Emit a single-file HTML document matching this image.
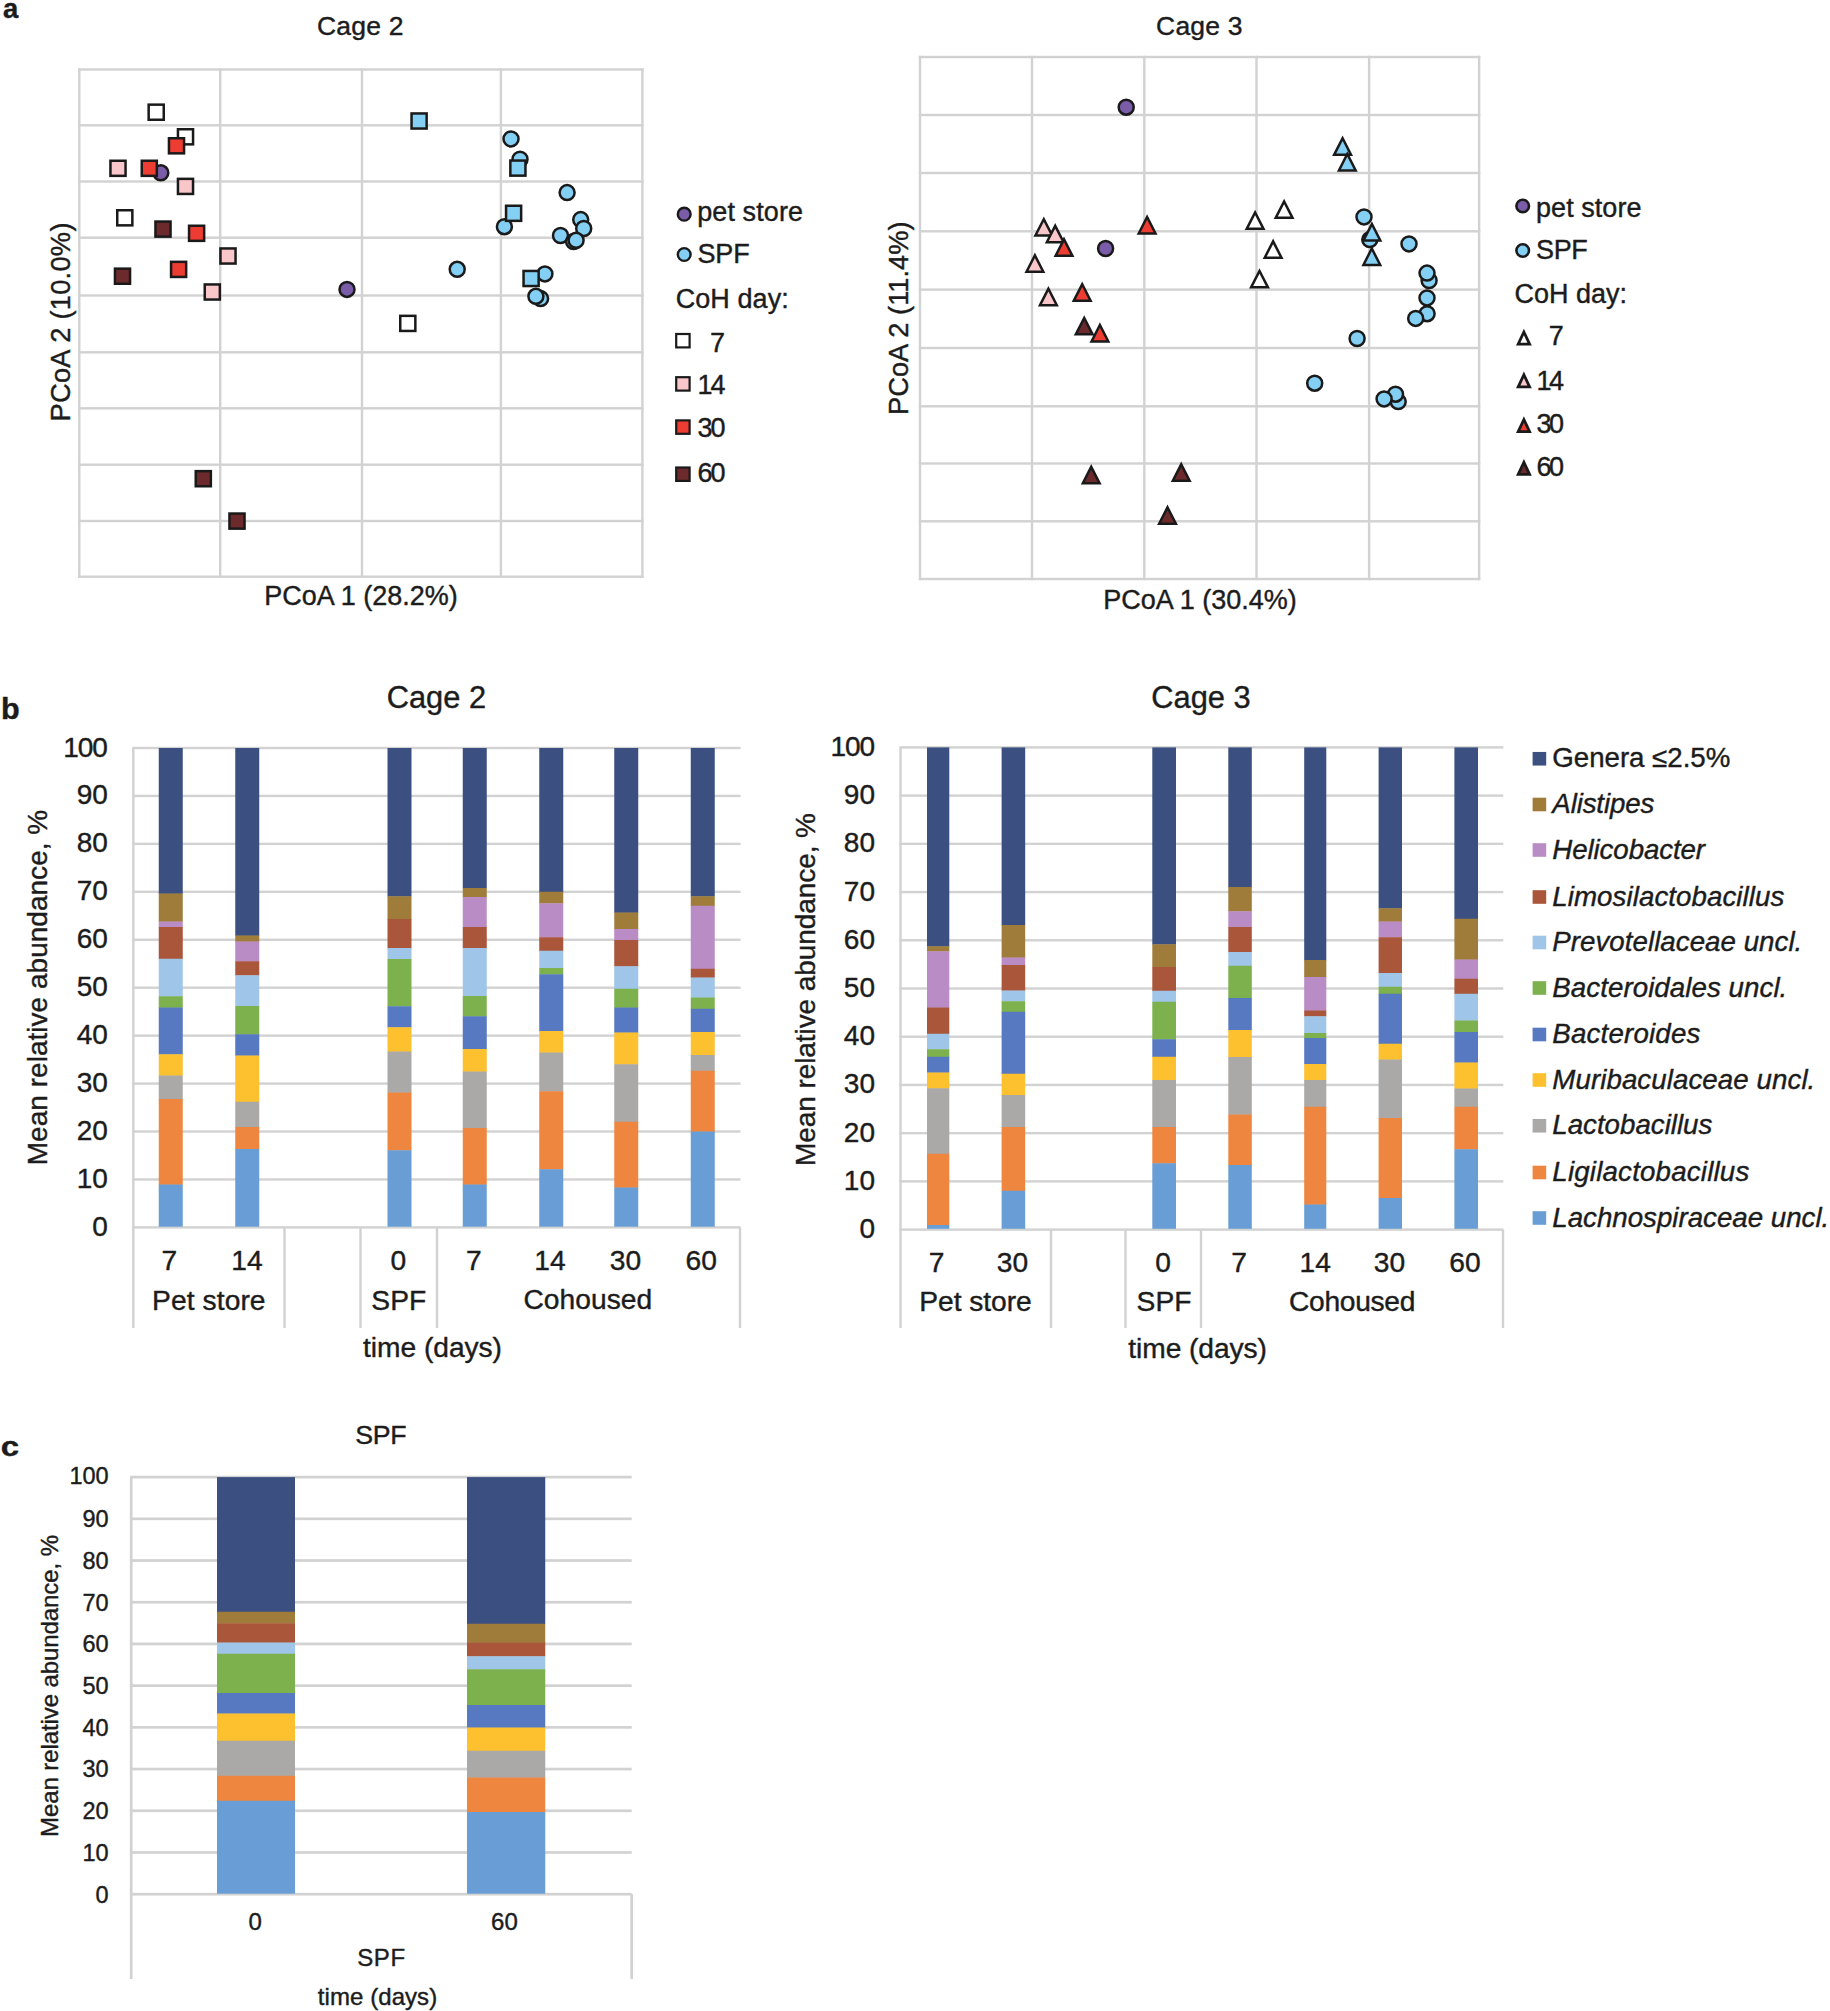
<!DOCTYPE html>
<html lang="en"><head><meta charset="utf-8"><title>Figure</title>
<style>
html,body{margin:0;padding:0;background:#fff}
svg{display:block}
svg text{font-family:"Liberation Sans",Arial,Helvetica,sans-serif;fill:#1c1c1c;stroke:#1c1c1c;stroke-width:.4px;stroke-linejoin:round}
</style></head>
<body>
<svg width="1830" height="2011" viewBox="0 0 1830 2011">
<rect width="1830" height="2011" fill="#ffffff"/>
<text transform="translate(3 18) scale(1.0 1)" font-size="27.5" font-weight="bold">a</text>
<text x="360.2" y="34.5" font-size="26.5" text-anchor="middle" textLength="86.5" lengthAdjust="spacing">Cage 2</text>
<rect x="78.1" y="68.3" width="565.5" height="2.4" fill="#d2d2d2"/>
<rect x="78.1" y="124.1" width="565.5" height="2.4" fill="#d2d2d2"/>
<rect x="78.1" y="180.3" width="565.5" height="2.4" fill="#d2d2d2"/>
<rect x="78.1" y="236.5" width="565.5" height="2.4" fill="#d2d2d2"/>
<rect x="78.1" y="294.3" width="565.5" height="2.4" fill="#d2d2d2"/>
<rect x="78.1" y="351.1" width="565.5" height="2.4" fill="#d2d2d2"/>
<rect x="78.1" y="407.1" width="565.5" height="2.4" fill="#d2d2d2"/>
<rect x="78.1" y="463.5" width="565.5" height="2.4" fill="#d2d2d2"/>
<rect x="78.1" y="519.8" width="565.5" height="2.4" fill="#d2d2d2"/>
<rect x="78.1" y="575.5" width="565.5" height="2.4" fill="#d2d2d2"/>
<rect x="78.1" y="68.3" width="2.4" height="509.6000000000001" fill="#d2d2d2"/>
<rect x="219.0" y="68.3" width="2.4" height="509.6000000000001" fill="#d2d2d2"/>
<rect x="360.8" y="68.3" width="2.4" height="509.6000000000001" fill="#d2d2d2"/>
<rect x="499.7" y="68.3" width="2.4" height="509.6000000000001" fill="#d2d2d2"/>
<rect x="641.1999999999999" y="68.3" width="2.4" height="509.6000000000001" fill="#d2d2d2"/>
<text x="361" y="605" font-size="27" text-anchor="middle" textLength="193.5" lengthAdjust="spacing">PCoA 1 (28.2%)</text>
<text x="69.6" y="322" font-size="27.3" text-anchor="middle" textLength="199" lengthAdjust="spacing" transform="rotate(-90 69.6 322)">PCoA 2 (10.0%)</text>
<circle cx="511" cy="138.9" r="7.5" fill="#84cff4" stroke="#1a1a1a" stroke-width="2.5"/>
<circle cx="520" cy="159.2" r="7.5" fill="#84cff4" stroke="#1a1a1a" stroke-width="2.5"/>
<circle cx="567.1" cy="192.6" r="7.5" fill="#84cff4" stroke="#1a1a1a" stroke-width="2.5"/>
<circle cx="504.4" cy="226.7" r="7.5" fill="#84cff4" stroke="#1a1a1a" stroke-width="2.5"/>
<circle cx="580.7" cy="219.6" r="7.5" fill="#84cff4" stroke="#1a1a1a" stroke-width="2.5"/>
<circle cx="583.7" cy="228.5" r="7.5" fill="#84cff4" stroke="#1a1a1a" stroke-width="2.5"/>
<circle cx="560.5" cy="235.5" r="7.5" fill="#84cff4" stroke="#1a1a1a" stroke-width="2.5"/>
<circle cx="573.6" cy="241.6" r="7.5" fill="#84cff4" stroke="#1a1a1a" stroke-width="2.5"/>
<circle cx="576.1" cy="240.3" r="7.5" fill="#84cff4" stroke="#1a1a1a" stroke-width="2.5"/>
<circle cx="457.2" cy="269.3" r="7.5" fill="#84cff4" stroke="#1a1a1a" stroke-width="2.5"/>
<circle cx="544.9" cy="273.9" r="7.5" fill="#84cff4" stroke="#1a1a1a" stroke-width="2.5"/>
<circle cx="540.6" cy="298.6" r="7.5" fill="#84cff4" stroke="#1a1a1a" stroke-width="2.5"/>
<circle cx="535.9" cy="296.3" r="7.5" fill="#84cff4" stroke="#1a1a1a" stroke-width="2.5"/>
<circle cx="160.8" cy="172.8" r="7.5" fill="#7b5ca8" stroke="#1a1a1a" stroke-width="2.5"/>
<circle cx="347" cy="289.4" r="7.5" fill="#7b5ca8" stroke="#1a1a1a" stroke-width="2.5"/>
<rect x="411.55" y="113.45" width="15.1" height="15.1" fill="#84cff4" stroke="#1a1a1a" stroke-width="2.5"/>
<rect x="510.35" y="160.55" width="15.1" height="15.1" fill="#84cff4" stroke="#1a1a1a" stroke-width="2.5"/>
<rect x="506.05" y="205.75" width="15.1" height="15.1" fill="#84cff4" stroke="#1a1a1a" stroke-width="2.5"/>
<rect x="523.55" y="270.95" width="15.1" height="15.1" fill="#84cff4" stroke="#1a1a1a" stroke-width="2.5"/>
<rect x="148.65" y="104.65" width="15.1" height="15.1" fill="#ffffff" stroke="#1a1a1a" stroke-width="2.5"/>
<rect x="177.95" y="129.25" width="15.1" height="15.1" fill="#ffffff" stroke="#1a1a1a" stroke-width="2.5"/>
<rect x="117.25" y="210.25" width="15.1" height="15.1" fill="#ffffff" stroke="#1a1a1a" stroke-width="2.5"/>
<rect x="400.25" y="315.85" width="15.1" height="15.1" fill="#ffffff" stroke="#1a1a1a" stroke-width="2.5"/>
<rect x="110.45" y="160.75" width="15.1" height="15.1" fill="#f9c6c9" stroke="#1a1a1a" stroke-width="2.5"/>
<rect x="177.95" y="178.85" width="15.1" height="15.1" fill="#f9c6c9" stroke="#1a1a1a" stroke-width="2.5"/>
<rect x="220.45" y="248.45" width="15.1" height="15.1" fill="#f9c6c9" stroke="#1a1a1a" stroke-width="2.5"/>
<rect x="204.75" y="284.45" width="15.1" height="15.1" fill="#f9c6c9" stroke="#1a1a1a" stroke-width="2.5"/>
<rect x="168.95" y="138.25" width="15.1" height="15.1" fill="#ed3d32" stroke="#1a1a1a" stroke-width="2.5"/>
<rect x="141.75" y="160.75" width="15.1" height="15.1" fill="#ed3d32" stroke="#1a1a1a" stroke-width="2.5"/>
<rect x="189.05" y="225.75" width="15.1" height="15.1" fill="#ed3d32" stroke="#1a1a1a" stroke-width="2.5"/>
<rect x="171.05" y="261.85" width="15.1" height="15.1" fill="#ed3d32" stroke="#1a1a1a" stroke-width="2.5"/>
<rect x="155.45" y="221.55" width="15.1" height="15.1" fill="#6d2a2c" stroke="#1a1a1a" stroke-width="2.5"/>
<rect x="114.95" y="268.65" width="15.1" height="15.1" fill="#6d2a2c" stroke="#1a1a1a" stroke-width="2.5"/>
<rect x="195.75" y="471.15" width="15.1" height="15.1" fill="#6d2a2c" stroke="#1a1a1a" stroke-width="2.5"/>
<rect x="229.45" y="513.55" width="15.1" height="15.1" fill="#6d2a2c" stroke="#1a1a1a" stroke-width="2.5"/>
<circle cx="684.2" cy="214.2" r="6.4" fill="#7b5ca8" stroke="#1a1a1a" stroke-width="2.4"/>
<text x="697.2" y="220.8" font-size="27" textLength="105.8" lengthAdjust="spacing">pet store</text>
<circle cx="684.2" cy="254.5" r="6.4" fill="#84cff4" stroke="#1a1a1a" stroke-width="2.4"/>
<text x="697.5" y="263.1" font-size="27" textLength="52.2" lengthAdjust="spacing">SPF</text>
<text x="675.7" y="308.1" font-size="27" textLength="113" lengthAdjust="spacing">CoH day:</text>
<rect x="676.20" y="334.00" width="13.4" height="13.4" fill="#ffffff" stroke="#1a1a1a" stroke-width="2.2"/>
<text x="710" y="351.6" font-size="27">7</text>
<rect x="676.20" y="377.20" width="13.4" height="13.4" fill="#f9c6c9" stroke="#1a1a1a" stroke-width="2.2"/>
<text x="697.6" y="394" font-size="27" textLength="28" lengthAdjust="spacing">14</text>
<rect x="676.20" y="420.40" width="13.4" height="13.4" fill="#ed3d32" stroke="#1a1a1a" stroke-width="2.2"/>
<text x="697.6" y="437" font-size="27" textLength="28" lengthAdjust="spacing">30</text>
<rect x="676.20" y="467.50" width="13.4" height="13.4" fill="#6d2a2c" stroke="#1a1a1a" stroke-width="2.2"/>
<text x="697.6" y="482.4" font-size="27" textLength="28" lengthAdjust="spacing">60</text>
<text x="1199.3" y="35" font-size="26.5" text-anchor="middle" textLength="86.5" lengthAdjust="spacing">Cage 3</text>
<rect x="918.8" y="55.8" width="561.5" height="2.4" fill="#d2d2d2"/>
<rect x="918.8" y="113.8" width="561.5" height="2.4" fill="#d2d2d2"/>
<rect x="918.8" y="171.8" width="561.5" height="2.4" fill="#d2d2d2"/>
<rect x="918.8" y="230.10000000000002" width="561.5" height="2.4" fill="#d2d2d2"/>
<rect x="918.8" y="288.40000000000003" width="561.5" height="2.4" fill="#d2d2d2"/>
<rect x="918.8" y="346.8" width="561.5" height="2.4" fill="#d2d2d2"/>
<rect x="918.8" y="405.1" width="561.5" height="2.4" fill="#d2d2d2"/>
<rect x="918.8" y="462.3" width="561.5" height="2.4" fill="#d2d2d2"/>
<rect x="918.8" y="520.0999999999999" width="561.5" height="2.4" fill="#d2d2d2"/>
<rect x="918.8" y="577.8" width="561.5" height="2.4" fill="#d2d2d2"/>
<rect x="918.8" y="55.8" width="2.4" height="524.4000000000001" fill="#d2d2d2"/>
<rect x="1030.8" y="55.8" width="2.4" height="524.4000000000001" fill="#d2d2d2"/>
<rect x="1143.1" y="55.8" width="2.4" height="524.4000000000001" fill="#d2d2d2"/>
<rect x="1255.3" y="55.8" width="2.4" height="524.4000000000001" fill="#d2d2d2"/>
<rect x="1367.8999999999999" y="55.8" width="2.4" height="524.4000000000001" fill="#d2d2d2"/>
<rect x="1477.8999999999999" y="55.8" width="2.4" height="524.4000000000001" fill="#d2d2d2"/>
<text x="1200" y="609.3" font-size="27" text-anchor="middle" textLength="193.5" lengthAdjust="spacing">PCoA 1 (30.4%)</text>
<text x="908.5" y="318.2" font-size="27.3" text-anchor="middle" textLength="193.5" lengthAdjust="spacing" transform="rotate(-90 908.5 318.2)">PCoA 2 (11.4%)</text>
<circle cx="1364" cy="216.9" r="7.5" fill="#84cff4" stroke="#1a1a1a" stroke-width="2.5"/>
<circle cx="1369.8" cy="239.6" r="7.5" fill="#84cff4" stroke="#1a1a1a" stroke-width="2.5"/>
<circle cx="1409" cy="243.9" r="7.5" fill="#84cff4" stroke="#1a1a1a" stroke-width="2.5"/>
<circle cx="1429.1" cy="280.5" r="7.5" fill="#84cff4" stroke="#1a1a1a" stroke-width="2.5"/>
<circle cx="1427" cy="273.1" r="7.5" fill="#84cff4" stroke="#1a1a1a" stroke-width="2.5"/>
<circle cx="1427" cy="297.9" r="7.5" fill="#84cff4" stroke="#1a1a1a" stroke-width="2.5"/>
<circle cx="1427.1" cy="313.7" r="7.5" fill="#84cff4" stroke="#1a1a1a" stroke-width="2.5"/>
<circle cx="1415.7" cy="318.4" r="7.5" fill="#84cff4" stroke="#1a1a1a" stroke-width="2.5"/>
<circle cx="1357.1" cy="338.5" r="7.5" fill="#84cff4" stroke="#1a1a1a" stroke-width="2.5"/>
<circle cx="1314.7" cy="383.2" r="7.5" fill="#84cff4" stroke="#1a1a1a" stroke-width="2.5"/>
<circle cx="1398.2" cy="401.6" r="7.5" fill="#84cff4" stroke="#1a1a1a" stroke-width="2.5"/>
<circle cx="1395.5" cy="394.2" r="7.5" fill="#84cff4" stroke="#1a1a1a" stroke-width="2.5"/>
<circle cx="1384.1" cy="398.9" r="7.5" fill="#84cff4" stroke="#1a1a1a" stroke-width="2.5"/>
<circle cx="1126.2" cy="107.2" r="7.5" fill="#7b5ca8" stroke="#1a1a1a" stroke-width="2.5"/>
<circle cx="1105.6" cy="248.5" r="7.5" fill="#7b5ca8" stroke="#1a1a1a" stroke-width="2.5"/>
<path d="M1334.20 154.65L1342.60 138.25L1351.00 154.65Z" fill="#84cff4" stroke="#1a1a1a" stroke-width="2.5" stroke-linejoin="miter"/>
<path d="M1338.90 170.45L1347.30 154.05L1355.70 170.45Z" fill="#84cff4" stroke="#1a1a1a" stroke-width="2.5" stroke-linejoin="miter"/>
<path d="M1363.50 240.45L1371.90 224.05L1380.30 240.45Z" fill="#84cff4" stroke="#1a1a1a" stroke-width="2.5" stroke-linejoin="miter"/>
<path d="M1363.40 264.95L1371.80 248.55L1380.20 264.95Z" fill="#84cff4" stroke="#1a1a1a" stroke-width="2.5" stroke-linejoin="miter"/>
<path d="M1275.70 217.85L1284.10 201.45L1292.50 217.85Z" fill="#ffffff" stroke="#1a1a1a" stroke-width="2.5" stroke-linejoin="miter"/>
<path d="M1246.70 228.85L1255.10 212.45L1263.50 228.85Z" fill="#ffffff" stroke="#1a1a1a" stroke-width="2.5" stroke-linejoin="miter"/>
<path d="M1264.70 257.75L1273.10 241.35L1281.50 257.75Z" fill="#ffffff" stroke="#1a1a1a" stroke-width="2.5" stroke-linejoin="miter"/>
<path d="M1251.10 287.35L1259.50 270.95L1267.90 287.35Z" fill="#ffffff" stroke="#1a1a1a" stroke-width="2.5" stroke-linejoin="miter"/>
<path d="M1035.40 235.55L1043.80 219.15L1052.20 235.55Z" fill="#f9c6c9" stroke="#1a1a1a" stroke-width="2.5" stroke-linejoin="miter"/>
<path d="M1046.80 242.25L1055.20 225.85L1063.60 242.25Z" fill="#f9c6c9" stroke="#1a1a1a" stroke-width="2.5" stroke-linejoin="miter"/>
<path d="M1026.50 271.75L1034.90 255.35L1043.30 271.75Z" fill="#f9c6c9" stroke="#1a1a1a" stroke-width="2.5" stroke-linejoin="miter"/>
<path d="M1040.00 305.15L1048.40 288.75L1056.80 305.15Z" fill="#f9c6c9" stroke="#1a1a1a" stroke-width="2.5" stroke-linejoin="miter"/>
<path d="M1055.60 255.75L1064.00 239.35L1072.40 255.75Z" fill="#ed3d32" stroke="#1a1a1a" stroke-width="2.5" stroke-linejoin="miter"/>
<path d="M1138.70 233.45L1147.10 217.05L1155.50 233.45Z" fill="#ed3d32" stroke="#1a1a1a" stroke-width="2.5" stroke-linejoin="miter"/>
<path d="M1073.80 300.65L1082.20 284.25L1090.60 300.65Z" fill="#ed3d32" stroke="#1a1a1a" stroke-width="2.5" stroke-linejoin="miter"/>
<path d="M1091.50 341.45L1099.90 325.05L1108.30 341.45Z" fill="#ed3d32" stroke="#1a1a1a" stroke-width="2.5" stroke-linejoin="miter"/>
<path d="M1075.80 334.35L1084.20 317.95L1092.60 334.35Z" fill="#6d2a2c" stroke="#1a1a1a" stroke-width="2.5" stroke-linejoin="miter"/>
<path d="M1082.80 483.25L1091.20 466.85L1099.60 483.25Z" fill="#6d2a2c" stroke="#1a1a1a" stroke-width="2.5" stroke-linejoin="miter"/>
<path d="M1172.80 480.75L1181.20 464.35L1189.60 480.75Z" fill="#6d2a2c" stroke="#1a1a1a" stroke-width="2.5" stroke-linejoin="miter"/>
<path d="M1159.10 523.75L1167.50 507.35L1175.90 523.75Z" fill="#6d2a2c" stroke="#1a1a1a" stroke-width="2.5" stroke-linejoin="miter"/>
<circle cx="1522.7" cy="206" r="6.3" fill="#7b5ca8" stroke="#1a1a1a" stroke-width="2.6"/>
<text x="1536" y="216.9" font-size="27" textLength="105.5" lengthAdjust="spacing">pet store</text>
<circle cx="1522.7" cy="250.5" r="6.3" fill="#84cff4" stroke="#1a1a1a" stroke-width="2.6"/>
<text x="1536" y="259" font-size="27" textLength="51.8" lengthAdjust="spacing">SPF</text>
<text x="1514.6" y="302.6" font-size="27" textLength="112.5" lengthAdjust="spacing">CoH day:</text>
<path d="M1518.20 344.10L1523.90 332.00L1529.60 344.10Z" fill="#ffffff" stroke="#1a1a1a" stroke-width="2.8" stroke-linejoin="miter"/>
<text x="1548.8" y="345" font-size="27">7</text>
<path d="M1518.20 386.80L1523.90 374.70L1529.60 386.80Z" fill="#f9c6c9" stroke="#1a1a1a" stroke-width="2.8" stroke-linejoin="miter"/>
<text x="1536.5" y="390" font-size="27" textLength="27.6" lengthAdjust="spacing">14</text>
<path d="M1518.20 431.60L1523.90 419.50L1529.60 431.60Z" fill="#ed3d32" stroke="#1a1a1a" stroke-width="2.8" stroke-linejoin="miter"/>
<text x="1536.5" y="433" font-size="27" textLength="27.6" lengthAdjust="spacing">30</text>
<path d="M1518.20 474.30L1523.90 462.20L1529.60 474.30Z" fill="#6d2a2c" stroke="#1a1a1a" stroke-width="2.8" stroke-linejoin="miter"/>
<text x="1536.5" y="476" font-size="27" textLength="27.6" lengthAdjust="spacing">60</text>
<text transform="translate(1 719) scale(1.02 1)" font-size="30" font-weight="bold">b</text>
<text x="436.4" y="708" font-size="30.8" text-anchor="middle" textLength="99.3" lengthAdjust="spacing">Cage 2</text>
<rect x="132.3" y="746.8" width="608.2" height="2.4" fill="#d2d2d2"/>
<rect x="132.3" y="794.74" width="608.2" height="2.4" fill="#d2d2d2"/>
<rect x="132.3" y="842.68" width="608.2" height="2.4" fill="#d2d2d2"/>
<rect x="132.3" y="890.62" width="608.2" height="2.4" fill="#d2d2d2"/>
<rect x="132.3" y="938.56" width="608.2" height="2.4" fill="#d2d2d2"/>
<rect x="132.3" y="986.5" width="608.2" height="2.4" fill="#d2d2d2"/>
<rect x="132.3" y="1034.44" width="608.2" height="2.4" fill="#d2d2d2"/>
<rect x="132.3" y="1082.3799999999999" width="608.2" height="2.4" fill="#d2d2d2"/>
<rect x="132.3" y="1130.32" width="608.2" height="2.4" fill="#d2d2d2"/>
<rect x="132.3" y="1178.26" width="608.2" height="2.4" fill="#d2d2d2"/>
<rect x="132.3" y="1226.2" width="608.2" height="2.4" fill="#d2d2d2"/>
<rect x="132.10000000000002" y="748" width="2.4" height="580" fill="#d2d2d2"/>
<rect x="283.3" y="1227.4" width="2.4" height="100.59999999999991" fill="#d2d2d2"/>
<rect x="359.3" y="1227.4" width="2.4" height="100.59999999999991" fill="#d2d2d2"/>
<rect x="435.8" y="1227.4" width="2.4" height="100.59999999999991" fill="#d2d2d2"/>
<rect x="738.8" y="1227.4" width="2.4" height="100.59999999999991" fill="#d2d2d2"/>
<text x="107.8" y="1236.4" font-size="28" text-anchor="end">0</text>
<text x="107.8" y="1187.66" font-size="28" text-anchor="end">10</text>
<text x="107.8" y="1139.72" font-size="28" text-anchor="end">20</text>
<text x="107.8" y="1091.7800000000002" font-size="28" text-anchor="end">30</text>
<text x="107.8" y="1043.8400000000001" font-size="28" text-anchor="end">40</text>
<text x="107.8" y="995.9000000000001" font-size="28" text-anchor="end">50</text>
<text x="107.8" y="947.96" font-size="28" text-anchor="end">60</text>
<text x="107.8" y="900.0200000000001" font-size="28" text-anchor="end">70</text>
<text x="107.8" y="852.08" font-size="28" text-anchor="end">80</text>
<text x="107.8" y="804.1400000000001" font-size="28" text-anchor="end">90</text>
<text x="107.8" y="757.0" font-size="28" text-anchor="end" textLength="44.6" lengthAdjust="spacing">100</text>
<text x="47.3" y="987.5" font-size="28" text-anchor="middle" textLength="355.5" lengthAdjust="spacing" transform="rotate(-90 47.3 987.5)">Mean relative abundance, %</text>
<rect x="158.75" y="748.00" width="24.00" height="145.90" fill="#3b5081"/>
<rect x="158.75" y="893.50" width="24.00" height="28.40" fill="#a07c3b"/>
<rect x="158.75" y="921.50" width="24.00" height="5.90" fill="#b98cc5"/>
<rect x="158.75" y="927.00" width="24.00" height="32.15" fill="#a9563a"/>
<rect x="158.75" y="958.75" width="24.00" height="37.90" fill="#9fc5e8"/>
<rect x="158.75" y="996.25" width="24.00" height="11.65" fill="#7cb14d"/>
<rect x="158.75" y="1007.50" width="24.00" height="47.15" fill="#5779c1"/>
<rect x="158.75" y="1054.25" width="24.00" height="21.65" fill="#fdc02f"/>
<rect x="158.75" y="1075.50" width="24.00" height="23.90" fill="#aaa9a7"/>
<rect x="158.75" y="1099.00" width="24.00" height="85.90" fill="#ee8640"/>
<rect x="158.75" y="1184.50" width="24.00" height="42.20" fill="#689ed5"/>
<rect x="235.25" y="748.00" width="24.00" height="187.90" fill="#3b5081"/>
<rect x="235.25" y="935.50" width="24.00" height="6.40" fill="#a07c3b"/>
<rect x="235.25" y="941.50" width="24.00" height="20.15" fill="#b98cc5"/>
<rect x="235.25" y="961.25" width="24.00" height="14.40" fill="#a9563a"/>
<rect x="235.25" y="975.25" width="24.00" height="31.15" fill="#9fc5e8"/>
<rect x="235.25" y="1006.00" width="24.00" height="28.65" fill="#7cb14d"/>
<rect x="235.25" y="1034.25" width="24.00" height="21.65" fill="#5779c1"/>
<rect x="235.25" y="1055.50" width="24.00" height="46.65" fill="#fdc02f"/>
<rect x="235.25" y="1101.75" width="24.00" height="25.65" fill="#aaa9a7"/>
<rect x="235.25" y="1127.00" width="24.00" height="22.40" fill="#ee8640"/>
<rect x="235.25" y="1149.00" width="24.00" height="77.70" fill="#689ed5"/>
<rect x="387.5" y="748.00" width="24.00" height="148.65" fill="#3b5081"/>
<rect x="387.5" y="896.25" width="24.00" height="23.15" fill="#a07c3b"/>
<rect x="387.5" y="919.00" width="24.00" height="29.40" fill="#a9563a"/>
<rect x="387.5" y="948.00" width="24.00" height="11.40" fill="#9fc5e8"/>
<rect x="387.5" y="959.00" width="24.00" height="47.65" fill="#7cb14d"/>
<rect x="387.5" y="1006.25" width="24.00" height="21.40" fill="#5779c1"/>
<rect x="387.5" y="1027.25" width="24.00" height="24.65" fill="#fdc02f"/>
<rect x="387.5" y="1051.50" width="24.00" height="41.40" fill="#aaa9a7"/>
<rect x="387.5" y="1092.50" width="24.00" height="58.15" fill="#ee8640"/>
<rect x="387.5" y="1150.25" width="24.00" height="76.45" fill="#689ed5"/>
<rect x="462.75" y="748.00" width="24.00" height="140.40" fill="#3b5081"/>
<rect x="462.75" y="888.00" width="24.00" height="9.40" fill="#a07c3b"/>
<rect x="462.75" y="897.00" width="24.00" height="30.40" fill="#b98cc5"/>
<rect x="462.75" y="927.00" width="24.00" height="21.40" fill="#a9563a"/>
<rect x="462.75" y="948.00" width="24.00" height="48.40" fill="#9fc5e8"/>
<rect x="462.75" y="996.00" width="24.00" height="20.65" fill="#7cb14d"/>
<rect x="462.75" y="1016.25" width="24.00" height="33.15" fill="#5779c1"/>
<rect x="462.75" y="1049.00" width="24.00" height="22.90" fill="#fdc02f"/>
<rect x="462.75" y="1071.50" width="24.00" height="56.90" fill="#aaa9a7"/>
<rect x="462.75" y="1128.00" width="24.00" height="56.90" fill="#ee8640"/>
<rect x="462.75" y="1184.50" width="24.00" height="42.20" fill="#689ed5"/>
<rect x="539.25" y="748.00" width="24.00" height="144.15" fill="#3b5081"/>
<rect x="539.25" y="891.75" width="24.00" height="11.90" fill="#a07c3b"/>
<rect x="539.25" y="903.25" width="24.00" height="34.40" fill="#b98cc5"/>
<rect x="539.25" y="937.25" width="24.00" height="13.90" fill="#a9563a"/>
<rect x="539.25" y="950.75" width="24.00" height="17.65" fill="#9fc5e8"/>
<rect x="539.25" y="968.00" width="24.00" height="6.65" fill="#7cb14d"/>
<rect x="539.25" y="974.25" width="24.00" height="57.15" fill="#5779c1"/>
<rect x="539.25" y="1031.00" width="24.00" height="21.90" fill="#fdc02f"/>
<rect x="539.25" y="1052.50" width="24.00" height="39.15" fill="#aaa9a7"/>
<rect x="539.25" y="1091.25" width="24.00" height="78.40" fill="#ee8640"/>
<rect x="539.25" y="1169.25" width="24.00" height="57.45" fill="#689ed5"/>
<rect x="614.25" y="748.00" width="24.00" height="164.90" fill="#3b5081"/>
<rect x="614.25" y="912.50" width="24.00" height="16.90" fill="#a07c3b"/>
<rect x="614.25" y="929.00" width="24.00" height="11.40" fill="#b98cc5"/>
<rect x="614.25" y="940.00" width="24.00" height="26.65" fill="#a9563a"/>
<rect x="614.25" y="966.25" width="24.00" height="22.90" fill="#9fc5e8"/>
<rect x="614.25" y="988.75" width="24.00" height="19.15" fill="#7cb14d"/>
<rect x="614.25" y="1007.50" width="24.00" height="25.40" fill="#5779c1"/>
<rect x="614.25" y="1032.50" width="24.00" height="32.15" fill="#fdc02f"/>
<rect x="614.25" y="1064.25" width="24.00" height="57.90" fill="#aaa9a7"/>
<rect x="614.25" y="1121.75" width="24.00" height="66.15" fill="#ee8640"/>
<rect x="614.25" y="1187.50" width="24.00" height="39.20" fill="#689ed5"/>
<rect x="690.75" y="748.00" width="24.00" height="148.65" fill="#3b5081"/>
<rect x="690.75" y="896.25" width="24.00" height="9.90" fill="#a07c3b"/>
<rect x="690.75" y="905.75" width="24.00" height="63.40" fill="#b98cc5"/>
<rect x="690.75" y="968.75" width="24.00" height="9.15" fill="#a9563a"/>
<rect x="690.75" y="977.50" width="24.00" height="20.40" fill="#9fc5e8"/>
<rect x="690.75" y="997.50" width="24.00" height="11.65" fill="#7cb14d"/>
<rect x="690.75" y="1008.75" width="24.00" height="23.65" fill="#5779c1"/>
<rect x="690.75" y="1032.00" width="24.00" height="23.40" fill="#fdc02f"/>
<rect x="690.75" y="1055.00" width="24.00" height="16.15" fill="#aaa9a7"/>
<rect x="690.75" y="1070.75" width="24.00" height="61.15" fill="#ee8640"/>
<rect x="690.75" y="1131.50" width="24.00" height="95.20" fill="#689ed5"/>
<text x="169.3" y="1269.5" font-size="28.2" text-anchor="middle">7</text>
<text x="247" y="1269.5" font-size="28.2" text-anchor="middle">14</text>
<text x="398.3" y="1269.5" font-size="28.2" text-anchor="middle">0</text>
<text x="473.8" y="1269.5" font-size="28.2" text-anchor="middle">7</text>
<text x="550" y="1269.5" font-size="28.2" text-anchor="middle">14</text>
<text x="625.4" y="1269.5" font-size="28.2" text-anchor="middle">30</text>
<text x="701.3" y="1269.5" font-size="28.2" text-anchor="middle">60</text>
<text x="208.8" y="1309.5" font-size="28.2" text-anchor="middle" textLength="113.5" lengthAdjust="spacing">Pet store</text>
<text x="398.8" y="1309.5" font-size="28.2" text-anchor="middle" textLength="55" lengthAdjust="spacing">SPF</text>
<text x="587.8" y="1309.4" font-size="28.2" text-anchor="middle" textLength="128.6" lengthAdjust="spacing">Cohoused</text>
<text x="432.5" y="1357" font-size="28.2" text-anchor="middle" textLength="139" lengthAdjust="spacing">time (days)</text>
<text x="1201" y="708" font-size="30.8" text-anchor="middle" textLength="99.3" lengthAdjust="spacing">Cage 3</text>
<rect x="899.5" y="746.1999999999999" width="603.8" height="2.4" fill="#d2d2d2"/>
<rect x="899.5" y="794.42" width="603.8" height="2.4" fill="#d2d2d2"/>
<rect x="899.5" y="842.6399999999999" width="603.8" height="2.4" fill="#d2d2d2"/>
<rect x="899.5" y="890.8599999999999" width="603.8" height="2.4" fill="#d2d2d2"/>
<rect x="899.5" y="939.0799999999999" width="603.8" height="2.4" fill="#d2d2d2"/>
<rect x="899.5" y="987.3" width="603.8" height="2.4" fill="#d2d2d2"/>
<rect x="899.5" y="1035.52" width="603.8" height="2.4" fill="#d2d2d2"/>
<rect x="899.5" y="1083.74" width="603.8" height="2.4" fill="#d2d2d2"/>
<rect x="899.5" y="1131.9599999999998" width="603.8" height="2.4" fill="#d2d2d2"/>
<rect x="899.5" y="1180.1799999999998" width="603.8" height="2.4" fill="#d2d2d2"/>
<rect x="899.5" y="1228.3999999999999" width="603.8" height="2.4" fill="#d2d2d2"/>
<rect x="899.3" y="747.4" width="2.4" height="580.6" fill="#d2d2d2"/>
<rect x="1049.8" y="1229.6" width="2.4" height="98.40000000000009" fill="#d2d2d2"/>
<rect x="1124.3" y="1229.6" width="2.4" height="98.40000000000009" fill="#d2d2d2"/>
<rect x="1199.8" y="1229.6" width="2.4" height="98.40000000000009" fill="#d2d2d2"/>
<rect x="1501.8" y="1229.6" width="2.4" height="98.40000000000009" fill="#d2d2d2"/>
<text x="875" y="1238.1" font-size="28" text-anchor="end">0</text>
<text x="875" y="1189.8799999999999" font-size="28" text-anchor="end">10</text>
<text x="875" y="1141.6599999999999" font-size="28" text-anchor="end">20</text>
<text x="875" y="1093.4399999999998" font-size="28" text-anchor="end">30</text>
<text x="875" y="1045.22" font-size="28" text-anchor="end">40</text>
<text x="875" y="997.0" font-size="28" text-anchor="end">50</text>
<text x="875" y="948.78" font-size="28" text-anchor="end">60</text>
<text x="875" y="900.56" font-size="28" text-anchor="end">70</text>
<text x="875" y="852.3399999999999" font-size="28" text-anchor="end">80</text>
<text x="875" y="804.12" font-size="28" text-anchor="end">90</text>
<text x="875" y="755.9" font-size="28" text-anchor="end" textLength="44.6" lengthAdjust="spacing">100</text>
<text x="815" y="989.5" font-size="28" text-anchor="middle" textLength="353" lengthAdjust="spacing" transform="rotate(-90 815 989.5)">Mean relative abundance, %</text>
<rect x="927" y="747.40" width="22.30" height="199.25" fill="#3b5081"/>
<rect x="927" y="946.25" width="22.30" height="5.40" fill="#a07c3b"/>
<rect x="927" y="951.25" width="22.30" height="56.65" fill="#b98cc5"/>
<rect x="927" y="1007.50" width="22.30" height="26.65" fill="#a9563a"/>
<rect x="927" y="1033.75" width="22.30" height="15.90" fill="#9fc5e8"/>
<rect x="927" y="1049.25" width="22.30" height="7.90" fill="#7cb14d"/>
<rect x="927" y="1056.75" width="22.30" height="16.15" fill="#5779c1"/>
<rect x="927" y="1072.50" width="22.30" height="16.15" fill="#fdc02f"/>
<rect x="927" y="1088.25" width="22.30" height="65.90" fill="#aaa9a7"/>
<rect x="927" y="1153.75" width="22.30" height="71.65" fill="#ee8640"/>
<rect x="927" y="1225.00" width="22.30" height="3.80" fill="#689ed5"/>
<rect x="1001.6" y="747.40" width="23.60" height="178.00" fill="#3b5081"/>
<rect x="1001.6" y="925.00" width="23.60" height="32.90" fill="#a07c3b"/>
<rect x="1001.6" y="957.50" width="23.60" height="7.90" fill="#b98cc5"/>
<rect x="1001.6" y="965.00" width="23.60" height="25.90" fill="#a9563a"/>
<rect x="1001.6" y="990.50" width="23.60" height="11.15" fill="#9fc5e8"/>
<rect x="1001.6" y="1001.25" width="23.60" height="10.90" fill="#7cb14d"/>
<rect x="1001.6" y="1011.75" width="23.60" height="62.40" fill="#5779c1"/>
<rect x="1001.6" y="1073.75" width="23.60" height="21.65" fill="#fdc02f"/>
<rect x="1001.6" y="1095.00" width="23.60" height="32.40" fill="#aaa9a7"/>
<rect x="1001.6" y="1127.00" width="23.60" height="64.15" fill="#ee8640"/>
<rect x="1001.6" y="1190.75" width="23.60" height="38.05" fill="#689ed5"/>
<rect x="1152.3" y="747.40" width="23.70" height="197.25" fill="#3b5081"/>
<rect x="1152.3" y="944.25" width="23.70" height="23.15" fill="#a07c3b"/>
<rect x="1152.3" y="967.00" width="23.70" height="24.15" fill="#a9563a"/>
<rect x="1152.3" y="990.75" width="23.70" height="11.40" fill="#9fc5e8"/>
<rect x="1152.3" y="1001.75" width="23.70" height="37.90" fill="#7cb14d"/>
<rect x="1152.3" y="1039.25" width="23.70" height="17.90" fill="#5779c1"/>
<rect x="1152.3" y="1056.75" width="23.70" height="23.65" fill="#fdc02f"/>
<rect x="1152.3" y="1080.00" width="23.70" height="47.40" fill="#aaa9a7"/>
<rect x="1152.3" y="1127.00" width="23.70" height="36.65" fill="#ee8640"/>
<rect x="1152.3" y="1163.25" width="23.70" height="65.55" fill="#689ed5"/>
<rect x="1228.3" y="747.40" width="23.50" height="140.00" fill="#3b5081"/>
<rect x="1228.3" y="887.00" width="23.50" height="24.65" fill="#a07c3b"/>
<rect x="1228.3" y="911.25" width="23.50" height="16.15" fill="#b98cc5"/>
<rect x="1228.3" y="927.00" width="23.50" height="25.40" fill="#a9563a"/>
<rect x="1228.3" y="952.00" width="23.50" height="14.15" fill="#9fc5e8"/>
<rect x="1228.3" y="965.75" width="23.50" height="32.65" fill="#7cb14d"/>
<rect x="1228.3" y="998.00" width="23.50" height="32.40" fill="#5779c1"/>
<rect x="1228.3" y="1030.00" width="23.50" height="27.40" fill="#fdc02f"/>
<rect x="1228.3" y="1057.00" width="23.50" height="57.90" fill="#aaa9a7"/>
<rect x="1228.3" y="1114.50" width="23.50" height="50.90" fill="#ee8640"/>
<rect x="1228.3" y="1165.00" width="23.50" height="63.80" fill="#689ed5"/>
<rect x="1304.2" y="747.40" width="22.10" height="213.00" fill="#3b5081"/>
<rect x="1304.2" y="960.00" width="22.10" height="17.40" fill="#a07c3b"/>
<rect x="1304.2" y="977.00" width="22.10" height="33.90" fill="#b98cc5"/>
<rect x="1304.2" y="1010.50" width="22.10" height="6.15" fill="#a9563a"/>
<rect x="1304.2" y="1016.25" width="22.10" height="17.15" fill="#9fc5e8"/>
<rect x="1304.2" y="1033.00" width="22.10" height="5.40" fill="#7cb14d"/>
<rect x="1304.2" y="1038.00" width="22.10" height="26.40" fill="#5779c1"/>
<rect x="1304.2" y="1064.00" width="22.10" height="16.40" fill="#fdc02f"/>
<rect x="1304.2" y="1080.00" width="22.10" height="27.15" fill="#aaa9a7"/>
<rect x="1304.2" y="1106.75" width="22.10" height="98.15" fill="#ee8640"/>
<rect x="1304.2" y="1204.50" width="22.10" height="24.30" fill="#689ed5"/>
<rect x="1378.6" y="747.40" width="23.40" height="161.25" fill="#3b5081"/>
<rect x="1378.6" y="908.25" width="23.40" height="13.65" fill="#a07c3b"/>
<rect x="1378.6" y="921.50" width="23.40" height="16.15" fill="#b98cc5"/>
<rect x="1378.6" y="937.25" width="23.40" height="36.15" fill="#a9563a"/>
<rect x="1378.6" y="973.00" width="23.40" height="14.15" fill="#9fc5e8"/>
<rect x="1378.6" y="986.75" width="23.40" height="7.40" fill="#7cb14d"/>
<rect x="1378.6" y="993.75" width="23.40" height="50.40" fill="#5779c1"/>
<rect x="1378.6" y="1043.75" width="23.40" height="16.15" fill="#fdc02f"/>
<rect x="1378.6" y="1059.50" width="23.40" height="58.90" fill="#aaa9a7"/>
<rect x="1378.6" y="1118.00" width="23.40" height="80.40" fill="#ee8640"/>
<rect x="1378.6" y="1198.00" width="23.40" height="30.80" fill="#689ed5"/>
<rect x="1454.4" y="747.40" width="23.60" height="171.75" fill="#3b5081"/>
<rect x="1454.4" y="918.75" width="23.60" height="41.15" fill="#a07c3b"/>
<rect x="1454.4" y="959.50" width="23.60" height="19.65" fill="#b98cc5"/>
<rect x="1454.4" y="978.75" width="23.60" height="15.40" fill="#a9563a"/>
<rect x="1454.4" y="993.75" width="23.60" height="27.15" fill="#9fc5e8"/>
<rect x="1454.4" y="1020.50" width="23.60" height="11.90" fill="#7cb14d"/>
<rect x="1454.4" y="1032.00" width="23.60" height="30.90" fill="#5779c1"/>
<rect x="1454.4" y="1062.50" width="23.60" height="26.40" fill="#fdc02f"/>
<rect x="1454.4" y="1088.50" width="23.60" height="18.65" fill="#aaa9a7"/>
<rect x="1454.4" y="1106.75" width="23.60" height="42.90" fill="#ee8640"/>
<rect x="1454.4" y="1149.25" width="23.60" height="79.55" fill="#689ed5"/>
<text x="936.5" y="1272" font-size="28.2" text-anchor="middle">7</text>
<text x="1012.5" y="1272" font-size="28.2" text-anchor="middle">30</text>
<text x="1163.2" y="1272" font-size="28.2" text-anchor="middle">0</text>
<text x="1239" y="1272" font-size="28.2" text-anchor="middle">7</text>
<text x="1315.3" y="1272" font-size="28.2" text-anchor="middle">14</text>
<text x="1389.5" y="1272" font-size="28.2" text-anchor="middle">30</text>
<text x="1465" y="1272" font-size="28.2" text-anchor="middle">60</text>
<text x="975.5" y="1310.5" font-size="28.2" text-anchor="middle" textLength="112.5" lengthAdjust="spacing">Pet store</text>
<text x="1164" y="1310.5" font-size="28.2" text-anchor="middle" textLength="55" lengthAdjust="spacing">SPF</text>
<text x="1352.2" y="1310.5" font-size="28.2" text-anchor="middle" textLength="126.5" lengthAdjust="spacing">Cohoused</text>
<text x="1197.6" y="1357.5" font-size="28.2" text-anchor="middle" textLength="138.5" lengthAdjust="spacing">time (days)</text>
<rect x="1532.6" y="751.95" width="13.6" height="13.6" fill="#3b5081"/>
<text x="1552.3" y="767.35" font-size="27.7" textLength="178" lengthAdjust="spacing">Genera ≤2.5%</text>
<rect x="1532.6" y="797.7" width="13.6" height="13.6" fill="#a07c3b"/>
<text x="1552.3" y="813.1" font-size="27.7" font-style="italic" textLength="102" lengthAdjust="spacing">Alistipes</text>
<rect x="1532.6" y="843.2" width="13.6" height="13.6" fill="#b98cc5"/>
<text x="1552.3" y="858.6" font-size="27.7" font-style="italic" textLength="152.8" lengthAdjust="spacing">Helicobacter</text>
<rect x="1532.6" y="890.2" width="13.6" height="13.6" fill="#a9563a"/>
<text x="1552.3" y="905.6" font-size="27.7" font-style="italic" textLength="232" lengthAdjust="spacing">Limosilactobacillus</text>
<rect x="1532.6" y="935.7" width="13.6" height="13.6" fill="#9fc5e8"/>
<text x="1552.3" y="951.1" font-size="27.7" font-style="italic" textLength="250" lengthAdjust="spacing">Prevotellaceae uncl.</text>
<rect x="1532.6" y="981.2" width="13.6" height="13.6" fill="#7cb14d"/>
<text x="1552.3" y="996.6" font-size="27.7" font-style="italic" textLength="235" lengthAdjust="spacing">Bacteroidales uncl.</text>
<rect x="1532.6" y="1027.7" width="13.6" height="13.6" fill="#5779c1"/>
<text x="1552.3" y="1043.1" font-size="27.7" font-style="italic" textLength="148" lengthAdjust="spacing">Bacteroides</text>
<rect x="1532.6" y="1073.2" width="13.6" height="13.6" fill="#fdc02f"/>
<text x="1552.3" y="1088.6" font-size="27.7" font-style="italic" textLength="263" lengthAdjust="spacing">Muribaculaceae uncl.</text>
<rect x="1532.6" y="1118.95" width="13.6" height="13.6" fill="#aaa9a7"/>
<text x="1552.3" y="1134.35" font-size="27.7" font-style="italic" textLength="160" lengthAdjust="spacing">Lactobacillus</text>
<rect x="1532.6" y="1165.7" width="13.6" height="13.6" fill="#ee8640"/>
<text x="1552.3" y="1181.1" font-size="27.7" font-style="italic" textLength="197" lengthAdjust="spacing">Ligilactobacillus</text>
<rect x="1532.6" y="1211.2" width="13.6" height="13.6" fill="#689ed5"/>
<text x="1552.3" y="1226.6" font-size="27.7" font-style="italic" textLength="277" lengthAdjust="spacing">Lachnospiraceae uncl.</text>
<text transform="translate(0.8 1455.5) scale(1.2 1)" font-size="27.5" font-weight="bold">c</text>
<text x="380.9" y="1443.8" font-size="26.7" text-anchor="middle" textLength="51.5" lengthAdjust="spacing">SPF</text>
<rect x="130.2" y="1475.75" width="501.50000000000006" height="2.7" fill="#d2d2d2"/>
<rect x="130.2" y="1517.46" width="501.50000000000006" height="2.7" fill="#d2d2d2"/>
<rect x="130.2" y="1559.17" width="501.50000000000006" height="2.7" fill="#d2d2d2"/>
<rect x="130.2" y="1600.88" width="501.50000000000006" height="2.7" fill="#d2d2d2"/>
<rect x="130.2" y="1642.5900000000001" width="501.50000000000006" height="2.7" fill="#d2d2d2"/>
<rect x="130.2" y="1684.3000000000002" width="501.50000000000006" height="2.7" fill="#d2d2d2"/>
<rect x="130.2" y="1726.01" width="501.50000000000006" height="2.7" fill="#d2d2d2"/>
<rect x="130.2" y="1767.72" width="501.50000000000006" height="2.7" fill="#d2d2d2"/>
<rect x="130.2" y="1809.43" width="501.50000000000006" height="2.7" fill="#d2d2d2"/>
<rect x="130.2" y="1851.14" width="501.50000000000006" height="2.7" fill="#d2d2d2"/>
<rect x="130.2" y="1892.8500000000001" width="501.50000000000006" height="2.7" fill="#d2d2d2"/>
<rect x="129.85" y="1477.1" width="2.7" height="501.9000000000001" fill="#d2d2d2"/>
<rect x="630.35" y="1894.2" width="2.7" height="84.79999999999995" fill="#d2d2d2"/>
<text x="108.6" y="1902.5" font-size="23.5" text-anchor="end">0</text>
<text x="108.6" y="1860.79" font-size="23.5" text-anchor="end">10</text>
<text x="108.6" y="1819.08" font-size="23.5" text-anchor="end">20</text>
<text x="108.6" y="1777.37" font-size="23.5" text-anchor="end">30</text>
<text x="108.6" y="1735.6599999999999" font-size="23.5" text-anchor="end">40</text>
<text x="108.6" y="1693.9499999999998" font-size="23.5" text-anchor="end">50</text>
<text x="108.6" y="1652.24" font-size="23.5" text-anchor="end">60</text>
<text x="108.6" y="1610.53" font-size="23.5" text-anchor="end">70</text>
<text x="108.6" y="1568.82" font-size="23.5" text-anchor="end">80</text>
<text x="108.6" y="1527.11" font-size="23.5" text-anchor="end">90</text>
<text x="108.6" y="1483.5" font-size="23.5" text-anchor="end">100</text>
<text x="57.5" y="1686" font-size="24" text-anchor="middle" textLength="302" lengthAdjust="spacing" transform="rotate(-90 57.5 1686)">Mean relative abundance, %</text>
<rect x="217" y="1477.10" width="78.00" height="135.05" fill="#3b5081"/>
<rect x="217" y="1611.75" width="78.00" height="11.90" fill="#a07c3b"/>
<rect x="217" y="1623.25" width="78.00" height="19.65" fill="#a9563a"/>
<rect x="217" y="1642.50" width="78.00" height="11.65" fill="#9fc5e8"/>
<rect x="217" y="1653.75" width="78.00" height="39.65" fill="#7cb14d"/>
<rect x="217" y="1693.00" width="78.00" height="20.90" fill="#5779c1"/>
<rect x="217" y="1713.50" width="78.00" height="27.65" fill="#fdc02f"/>
<rect x="217" y="1740.75" width="78.00" height="35.40" fill="#aaa9a7"/>
<rect x="217" y="1775.75" width="78.00" height="25.40" fill="#ee8640"/>
<rect x="217" y="1800.75" width="78.00" height="92.95" fill="#689ed5"/>
<rect x="467" y="1477.10" width="78.25" height="147.05" fill="#3b5081"/>
<rect x="467" y="1623.75" width="78.25" height="19.15" fill="#a07c3b"/>
<rect x="467" y="1642.50" width="78.25" height="14.15" fill="#a9563a"/>
<rect x="467" y="1656.25" width="78.25" height="13.40" fill="#9fc5e8"/>
<rect x="467" y="1669.25" width="78.25" height="36.15" fill="#7cb14d"/>
<rect x="467" y="1705.00" width="78.25" height="22.90" fill="#5779c1"/>
<rect x="467" y="1727.50" width="78.25" height="23.65" fill="#fdc02f"/>
<rect x="467" y="1750.75" width="78.25" height="27.15" fill="#aaa9a7"/>
<rect x="467" y="1777.50" width="78.25" height="34.90" fill="#ee8640"/>
<rect x="467" y="1812.00" width="78.25" height="81.70" fill="#689ed5"/>
<text x="255.2" y="1930.3" font-size="24" text-anchor="middle">0</text>
<text x="504.4" y="1930.3" font-size="24" text-anchor="middle">60</text>
<text x="381.2" y="1966.2" font-size="24" text-anchor="middle" textLength="48" lengthAdjust="spacing">SPF</text>
<text x="377.5" y="2004.8" font-size="24" text-anchor="middle" textLength="119.3" lengthAdjust="spacing">time (days)</text>
</svg>
</body></html>
